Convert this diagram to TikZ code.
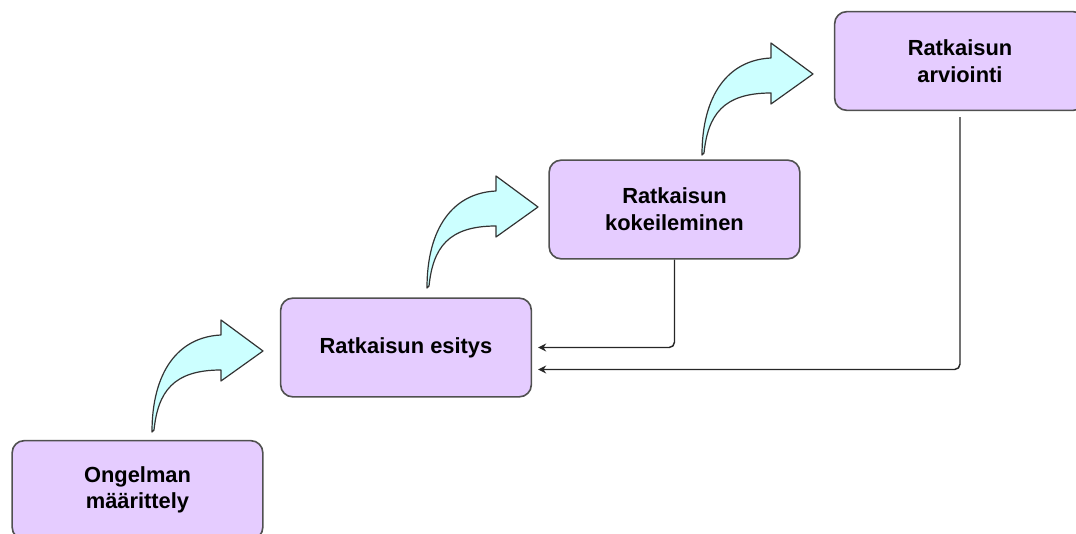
\documentclass[tikz,border=0pt]{standalone}
\usepackage{fontspec}
\setmainfont{Liberation Sans}
\usetikzlibrary{arrows.meta}

\definecolor{boxfill}{RGB}{229,204,255}
\definecolor{arrowfill}{RGB}{204,255,255}
\definecolor{edgegray}{RGB}{80,80,80}

\tikzset{
    stage/.style={draw=edgegray, line width=1.2pt, fill=boxfill, rounded corners=9pt,
        minimum width=188pt, minimum height=74pt, align=center,
        font=\fontsize{16.4}{20}\selectfont\bfseries},
    feedback/.style={-{Stealth[length=6pt,width=6pt]}, line width=1.1pt,
        rounded corners=4pt, draw=black!85, shorten >=4.5pt},
    jumparrow/.pic={
        % curved block arrow, base at the origin
        \filldraw[fill=arrowfill, draw=black!80, line width=0.9pt, line join=round]
            (-1,0) .. controls (-1,-60) and (25,-95) .. (68,-97)
            -- (68,-112) -- (110,-81) -- (68,-51) -- (68,-62)
            .. controls (20,-62) and (5,-40) .. (1,-2) -- cycle;
    }
}

\begin{document}
\begin{tikzpicture}[x=0.75pt,y=-0.75pt]
    \useasboundingbox (0,0) rectangle (1076,534);

    % the four stages, climbing to the right
    \node[stage] (ongelma)   at (137.5,490) {Ongelman\\määrittely};
    \node[stage] (esitys)    at (406,347.5) {Ratkaisun esitys};
    \node[stage] (kokeilu)   at (674.5,209.5) {Ratkaisun\\kokeileminen};
    \node[stage] (arviointi) at (960,61) {Ratkaisun\\arviointi};

    % the curved arrows between the stages
    \foreach \p in {(153,432),(428,288),(703,155)}
        \pic at \p {jumparrow};

    % the lines back to the presentation
    \draw[feedback] (kokeilu.south) |- (esitys.east);
    \draw[feedback, shorten <=4.5pt] (arviointi.south) |- ([yshift=-16.5pt]esitys.east);
\end{tikzpicture}
\end{document}
